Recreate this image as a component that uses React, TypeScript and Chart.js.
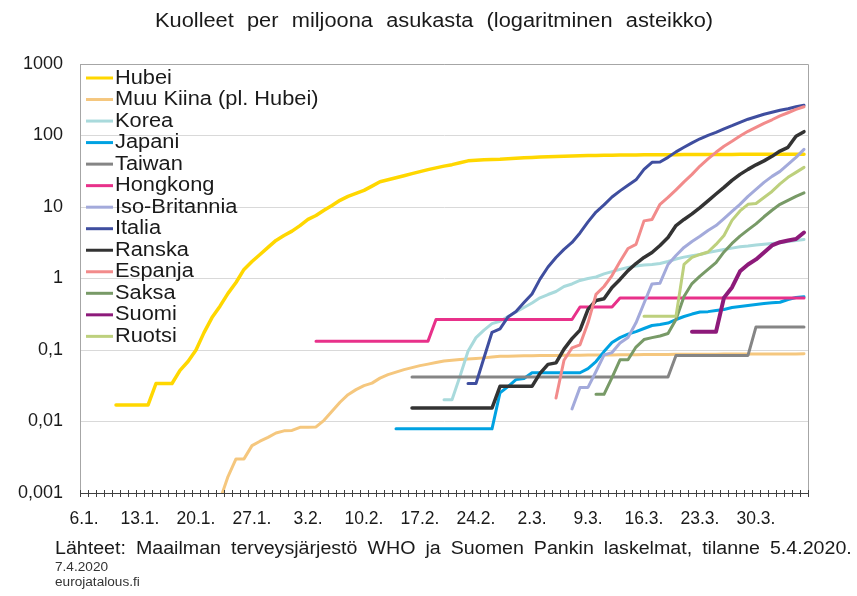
import React, { useEffect, useRef } from "react";
import { Chart, registerables } from "chart.js";

Chart.register(...registerables);

const DATES = [
  "6.1.", "7.1.", "8.1.", "9.1.", "10.1.", "11.1.", "12.1.", "13.1.", "14.1.", "15.1.", "16.1.", "17.1.", "18.1.",
  "19.1.", "20.1.", "21.1.", "22.1.", "23.1.", "24.1.", "25.1.", "26.1.", "27.1.", "28.1.", "29.1.", "30.1.", "31.1.",
  "1.2.", "2.2.", "3.2.", "4.2.", "5.2.", "6.2.", "7.2.", "8.2.", "9.2.", "10.2.", "11.2.", "12.2.", "13.2.", "14.2.",
  "15.2.", "16.2.", "17.2.", "18.2.", "19.2.", "20.2.", "21.2.", "22.2.", "23.2.", "24.2.", "25.2.", "26.2.", "27.2.",
  "28.2.", "29.2.", "1.3.", "2.3.", "3.3.", "4.3.", "5.3.", "6.3.", "7.3.", "8.3.", "9.3.", "10.3.", "11.3.", "12.3.",
  "13.3.", "14.3.", "15.3.", "16.3.", "17.3.", "18.3.", "19.3.", "20.3.", "21.3.", "22.3.", "23.3.", "24.3.", "25.3.",
  "26.3.", "27.3.", "28.3.", "29.3.", "30.3.", "31.3.", "1.4.", "2.4.", "3.4.", "4.4.", "5.4."
];
const X_TICK_LABELS = ["6.1.", "13.1.", "20.1.", "27.1.", "3.2.", "10.2.", "17.2.", "24.2.", "2.3.", "9.3.", "16.3.", "23.3.", "30.3."];
const Y_TICKS = [0.001, 0.01, 0.1, 1, 10, 100, 1000];
const Y_TICK_LABELS = ["0,001", "0,01", "0,1", "1", "10", "100", "1000"];

const SERIES_NAMES = ["Hubei", "Muu Kiina (pl. Hubei)", "Korea", "Japani", "Taiwan", "Hongkong", "Iso-Britannia",
  "Italia", "Ranska", "Espanja", "Saksa", "Suomi", "Ruotsi"];
const SERIES_COLORS = ["#ffd700", "#f5c77e", "#a9dadc", "#00a2e2", "#858585", "#e8318a", "#a3aadb",
  "#3f4e9f", "#333333", "#f28b8b", "#789a67", "#8d1a7a", "#bdd07d"];
const SERIES_WIDTHS = [3.5, 3, 3, 3, 3, 3, 3, 3, 3.5, 3, 3, 4, 3];
// index (into DATES) of the first value of each series
const SERIES_START = [4, 17, 45, 39, 41, 29, 61, 48, 41, 59, 64, 76, 70];

const HUBEI = [0.017, 0.017, 0.017, 0.017, 0.017, 0.034, 0.034, 0.034, 0.052, 0.069, 0.10, 0.175, 0.284, 0.41, 0.62,
  0.88, 1.34, 1.73, 2.17, 2.72, 3.41, 4.0, 4.6, 5.5, 6.7, 7.6, 9.0, 10.5, 12.4, 14.1, 15.5, 17.1, 19.6, 22.6, 24,
  25.6, 27.4, 29.3, 31.2, 33.3, 35.3, 37.3, 39.1, 41.5, 44.2, 45, 45.7, 46.2, 46.4, 47.2, 48.0, 48.7, 49.3, 49.9,
  50.5, 51.0, 51.4, 51.8, 52.1, 52.4, 52.7, 52.9, 53.1, 53.3, 53.4, 53.5, 53.6, 53.7, 53.8, 53.9, 54.0, 54.1, 54.2,
  54.2, 54.3, 54.3, 54.4, 54.4, 54.5, 54.5, 54.5, 54.6, 54.6, 54.7, 54.7, 54.8, 54.8];
const MUU_KIINA = [0.0008, 0.0017, 0.003, 0.003, 0.0046, 0.0053, 0.006, 0.0069, 0.0074, 0.0075, 0.0083, 0.0083,
  0.0084, 0.0104, 0.0139, 0.0186, 0.0237, 0.0279, 0.0317, 0.0344, 0.0404, 0.0452, 0.049, 0.0531, 0.0567, 0.0605,
  0.0635, 0.0667, 0.07, 0.0718, 0.0734, 0.0746, 0.076, 0.0776, 0.0796, 0.0816, 0.082, 0.0825, 0.083, 0.0833, 0.0836,
  0.0838, 0.084, 0.0842, 0.0844, 0.0846, 0.0848, 0.085, 0.0852, 0.0854, 0.0856, 0.0858, 0.086, 0.0862, 0.0864,
  0.0866, 0.0868, 0.087, 0.0871, 0.0872, 0.0873, 0.0874, 0.0875, 0.0876, 0.0877, 0.0878, 0.0879, 0.088, 0.088,
  0.0881, 0.0881, 0.0882, 0.0882, 0.0883];
const KOREA = [0.0202, 0.0202, 0.043, 0.096, 0.149, 0.19, 0.234, 0.252, 0.294, 0.34, 0.393, 0.454, 0.537, 0.597,
  0.658, 0.773, 0.838, 0.94, 1.0, 1.05, 1.16, 1.25, 1.34, 1.43, 1.5, 1.55, 1.57, 1.62, 1.73, 1.87, 1.99, 2.08, 2.17,
  2.31, 2.43, 2.55, 2.66, 2.78, 2.85, 2.94, 3.02, 3.09, 3.16, 3.3, 3.4, 3.52];
const JAPANI = [0.0079, 0.0079, 0.0079, 0.0079, 0.0079, 0.0079, 0.0079, 0.0079, 0.0079, 0.0079, 0.0079, 0.0079,
  0.0079, 0.0253, 0.0307, 0.0385, 0.04, 0.048, 0.048, 0.048, 0.048, 0.048, 0.048, 0.048, 0.055, 0.069, 0.095, 0.127,
  0.149, 0.167, 0.181, 0.2, 0.22, 0.227, 0.238, 0.267, 0.294, 0.318, 0.34, 0.344, 0.356, 0.368, 0.393, 0.405, 0.419,
  0.433, 0.446, 0.457, 0.466, 0.508, 0.542, 0.555];
const TAIWAN = [0.042, 0.042, 0.042, 0.042, 0.042, 0.042, 0.042, 0.042, 0.042, 0.042, 0.042, 0.042, 0.042, 0.042,
  0.042, 0.042, 0.042, 0.042, 0.042, 0.042, 0.042, 0.042, 0.042, 0.042, 0.042, 0.042, 0.042, 0.042, 0.042, 0.042,
  0.042, 0.042, 0.042, 0.084, 0.084, 0.084, 0.084, 0.084, 0.084, 0.084, 0.084, 0.084, 0.084, 0.21, 0.21, 0.21, 0.21,
  0.21, 0.21, 0.21];
const HONGKONG = [0.133, 0.133, 0.133, 0.133, 0.133, 0.133, 0.133, 0.133, 0.133, 0.133, 0.133, 0.133, 0.133, 0.133,
  0.133, 0.267, 0.267, 0.267, 0.267, 0.267, 0.267, 0.267, 0.267, 0.267, 0.267, 0.267, 0.267, 0.267, 0.267, 0.267,
  0.267, 0.267, 0.267, 0.4, 0.4, 0.4, 0.4, 0.4, 0.533, 0.533, 0.533, 0.533, 0.533, 0.533, 0.533, 0.533, 0.533, 0.533,
  0.533, 0.533, 0.533, 0.533, 0.533, 0.533, 0.533, 0.533, 0.533, 0.533, 0.533, 0.533, 0.533, 0.533];
const ISO_BRITANNIA = [0.015, 0.03, 0.03, 0.05, 0.085, 0.092, 0.125, 0.15, 0.24, 0.45, 0.84, 0.86, 1.57, 2.1, 2.72,
  3.3, 3.9, 4.7, 5.5, 6.9, 8.7, 10.9, 14.1, 17.6, 22.1, 26.8, 31.5, 39.5, 49.5, 64];
const ITALIA = [0.034, 0.034, 0.078, 0.177, 0.198, 0.29, 0.345, 0.46, 0.607, 0.98, 1.45, 1.97, 2.55, 3.19, 4.34, 6.2,
  8.5, 10.7, 13.8, 16.8, 20.1, 24, 33.6, 42.2, 42.6, 49.5, 59, 68.4, 79, 90, 100.7, 110.9, 124, 137, 153, 169, 183,
  198, 211, 225, 237, 252, 265];
const RANSKA = [0.0154, 0.0154, 0.0154, 0.0154, 0.0154, 0.0154, 0.0154, 0.0154, 0.0154, 0.0154, 0.0154, 0.031,
  0.031, 0.031, 0.031, 0.031, 0.047, 0.063, 0.066, 0.103, 0.144, 0.19, 0.37, 0.492, 0.52, 0.748, 0.97, 1.29, 1.62,
  1.97, 2.31, 2.9, 3.75, 5.5, 6.7, 8.0, 9.8, 12.2, 15.2, 18.8, 23.6, 28.6, 33.6, 38.9, 44.2, 51.1, 60.6, 68.4, 97.5,
  113];
const ESPANJA = [0.0213, 0.072, 0.107, 0.118, 0.24, 0.6, 0.773, 1.1, 1.73, 2.63, 3.0, 6.4, 6.7, 10.9, 13.6, 17.4,
  22.5, 28.6, 37.4, 47.2, 58.2, 70.6, 83, 98.4, 114.5, 130, 148, 166, 187.5, 208, 232, 252];
const SAKSA = [0.024, 0.024, 0.041, 0.073, 0.073, 0.11, 0.14, 0.149, 0.157, 0.17, 0.267, 0.56, 0.85, 1.08, 1.34,
  1.67, 2.35, 3.09, 3.91, 4.78, 5.8, 7.3, 9.0, 10.9, 12.4, 14.1, 15.8];
const SUOMI = [0.18, 0.18, 0.18, 0.18, 0.54, 0.75, 1.26, 1.57, 1.85, 2.31, 2.9, 3.22, 3.4, 3.57, 4.4];
const RUOTSI = [0.297, 0.297, 0.297, 0.297, 0.297, 1.57, 1.97, 2.17, 2.35, 3.0, 4.0, 6.5, 8.8, 10.9, 11.2, 13.6,
  16.5, 21, 26, 30.5, 35.8];

const SERIES_VALUES = [HUBEI, MUU_KIINA, KOREA, JAPANI, TAIWAN, HONGKONG, ISO_BRITANNIA, ITALIA, RANSKA, ESPANJA,
  SAKSA, SUOMI, RUOTSI];

const FONT = '"Liberation Sans", Arial, Helvetica, sans-serif';
const TEXT_COLOR = "#1a1a1a";

function placeOnDates(start: number, values: number[]): (number | null)[] {
  const out: (number | null)[] = DATES.map(() => null);
  values.forEach((v, k) => {
    out[start + k] = v;
  });
  return out;
}

const framePlugin = {
  id: "frameAndTicks",
  beforeDatasetsDraw(chart: any) {
    const { ctx, chartArea } = chart;
    ctx.save();
    ctx.strokeStyle = "#a6a6a6";
    ctx.lineWidth = 1;
    ctx.beginPath();
    ctx.moveTo(Math.round(chartArea.left), Math.round(chartArea.top) + 0.5);
    ctx.lineTo(Math.round(chartArea.right) + 0.5, Math.round(chartArea.top) + 0.5);
    ctx.lineTo(Math.round(chartArea.right) + 0.5, Math.round(chartArea.bottom));
    ctx.stroke();
    ctx.restore();
  },
  afterDraw(chart: any) {
    const { ctx, chartArea } = chart;
    const xs = chart.scales.x;
    const band = xs.getPixelForValue(1) - xs.getPixelForValue(0);
    const first = xs.getPixelForValue(0) - band / 2;
    const yb = Math.round(chartArea.bottom) + 0.5;
    ctx.save();
    ctx.strokeStyle = "#404040";
    ctx.lineWidth = 1;
    ctx.beginPath();
    for (let i = 0; i <= DATES.length; i++) {
      const px = Math.round(first + i * band) + 0.5;
      ctx.moveTo(px, yb - 3.5);
      ctx.lineTo(px, yb + 3.5);
    }
    ctx.stroke();
    ctx.restore();
  },
};

const legendPlugin = {
  id: "insideLegend",
  afterDatasetsDraw(chart: any) {
    const { ctx, chartArea } = chart;
    ctx.save();
    ctx.font = `20px ${FONT}`;
    ctx.textBaseline = "middle";
    chart.data.datasets.forEach((ds: any, k: number) => {
      const y = chartArea.top + 14 + k * 21.53;
      ctx.strokeStyle = ds.borderColor;
      ctx.lineWidth = 3;
      ctx.lineCap = "butt";
      ctx.beginPath();
      ctx.moveTo(chartArea.left + 6, y);
      ctx.lineTo(chartArea.left + 33, y);
      ctx.stroke();
      ctx.save();
      ctx.translate(chartArea.left + 35, y);
      ctx.scale(1.09, 1);
      ctx.fillStyle = TEXT_COLOR;
      ctx.fillText(ds.label, 0, 0);
      ctx.restore();
    });
    ctx.restore();
  },
};

export default function App() {
  const canvasRef = useRef<HTMLCanvasElement | null>(null);

  useEffect(() => {
    const canvas = canvasRef.current;
    if (!canvas) return;
    const n = SERIES_NAMES.length;
    const chart = new Chart(canvas, {
      type: "line",
      data: {
        labels: DATES,
        datasets: SERIES_NAMES.map((name, k) => ({
          label: name,
          data: placeOnDates(SERIES_START[k], SERIES_VALUES[k]),
          borderColor: SERIES_COLORS[k],
          backgroundColor: SERIES_COLORS[k],
          borderWidth: SERIES_WIDTHS[k],
          pointRadius: 0,
          pointHoverRadius: 0,
          tension: 0,
          spanGaps: false,
          fill: false,
          borderJoinStyle: "round",
          borderCapStyle: "round",
          order: n - k,
        })),
      },
      options: {
        animation: false,
        responsive: false,
        maintainAspectRatio: false,
        devicePixelRatio: 1,
        layout: { padding: { top: 64, right: 49, left: 0, bottom: 0 } },
        plugins: {
          legend: { display: false },
          tooltip: { enabled: false },
          title: { display: false },
        },
        scales: {
          x: {
            type: "category",
            offset: true,
            grid: { display: false, offset: true },
            border: { display: true, color: "#404040", width: 1 },
            ticks: {
              autoSkip: false,
              maxRotation: 0,
              minRotation: 0,
              padding: 8,
              color: TEXT_COLOR,
              font: { family: FONT, size: 17.5 },
              callback: (_v: any, i: number) => (X_TICK_LABELS.includes(DATES[i]) ? DATES[i] : ""),
            },
            afterFit: (s: any) => {
              s.height = 103;
            },
          },
          y: {
            type: "logarithmic",
            min: Y_TICKS[0],
            max: Y_TICKS[Y_TICKS.length - 1],
            afterBuildTicks: (s: any) => {
              s.ticks = Y_TICKS.map((v) => ({ value: v }));
            },
            grid: { color: "#d9d9d9", drawTicks: false, lineWidth: 1 },
            border: { display: true, color: "#a6a6a6", width: 1 },
            ticks: {
              padding: 17,
              color: TEXT_COLOR,
              font: { family: FONT, size: 18 },
              callback: (v: any) => {
                const k = Y_TICKS.indexOf(Number(v));
                return k >= 0 ? Y_TICK_LABELS[k] : "";
              },
            },
            afterFit: (s: any) => {
              s.width = 80;
            },
          },
        },
      } as any,
      plugins: [framePlugin, legendPlugin],
    });
    return () => chart.destroy();
  }, []);

  const base: React.CSSProperties = {
    position: "absolute",
    fontFamily: FONT,
    color: TEXT_COLOR,
    transformOrigin: "left top",
    whiteSpace: "normal",
  };

  return (
    <div style={{ position: "absolute", left: 0, top: 0, width: 857, height: 596, background: "#fff", overflow: "hidden" }}>
      <canvas ref={canvasRef} width={857} height={596} style={{ position: "absolute", left: 0, top: 0, width: 857, height: 596 }} />
      <div
        style={{
          ...base,
          left: 155,
          top: 8,
          width: 512,
          fontSize: 20,
          lineHeight: "24px",
          textAlign: "justify",
          textAlignLast: "justify",
          transform: "scaleX(1.09)",
        }}
      >
        Kuolleet per miljoona asukasta (logaritminen asteikko)
      </div>
      <div
        style={{
          ...base,
          left: 55,
          top: 536,
          width: 731,
          fontSize: 18,
          lineHeight: "24px",
          textAlign: "justify",
          textAlignLast: "justify",
          transform: "scaleX(1.09)",
        }}
      >
        Lähteet: Maailman terveysjärjestö WHO ja Suomen Pankin laskelmat, tilanne 5.4.2020.
      </div>
      <div style={{ ...base, left: 55, top: 559, fontSize: 12.5, lineHeight: "16px", color: "#333", transform: "scaleX(1.09)" }}>
        7.4.2020
      </div>
      <div style={{ ...base, left: 55, top: 574, fontSize: 12.5, lineHeight: "16px", color: "#333", transform: "scaleX(1.09)" }}>
        eurojatalous.fi
      </div>
    </div>
  );
}
